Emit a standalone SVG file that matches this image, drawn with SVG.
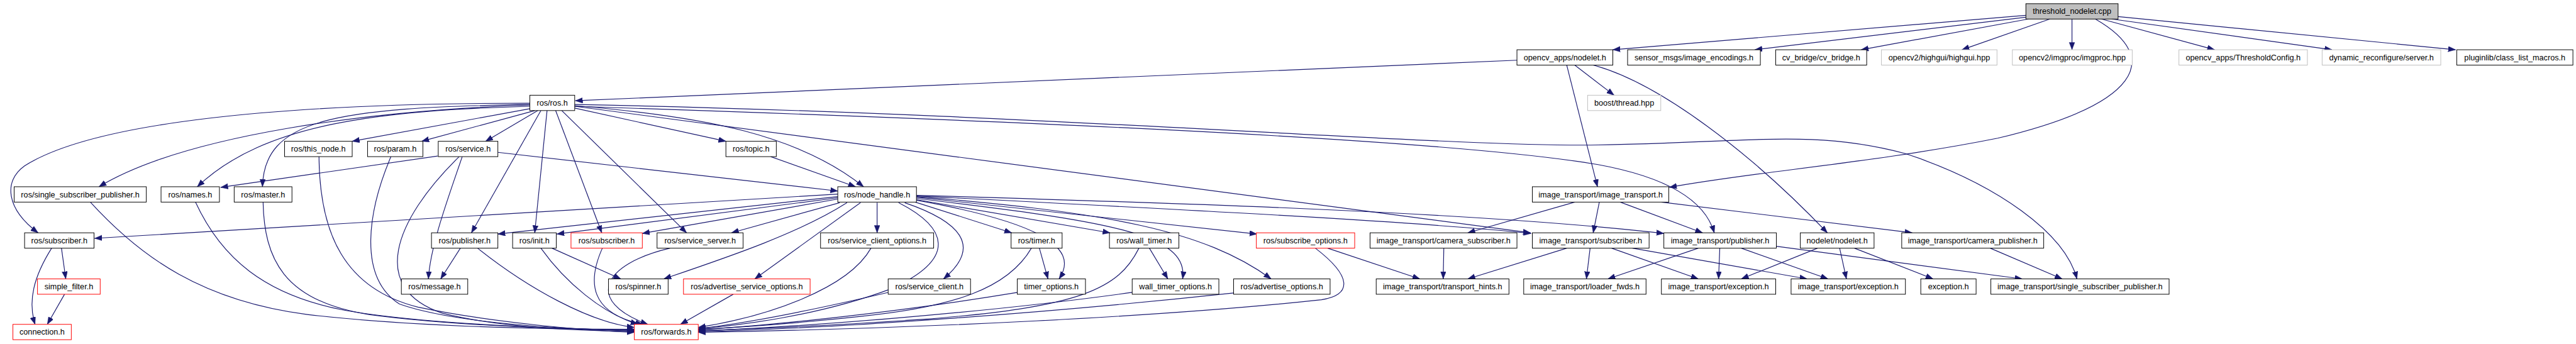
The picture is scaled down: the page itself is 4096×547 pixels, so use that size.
<svg xmlns="http://www.w3.org/2000/svg" width="4096" height="547" viewBox="0 0 4096 547">
<style>
.n rect{fill:#fff;stroke:#000;stroke-width:1}
.g rect{stroke:#bfbfbf}
.r rect{stroke:#ff0000}
.root rect{fill:#bfbfbf}
text{font-family:"Liberation Sans",Arial,Helvetica,sans-serif;font-size:13px;text-anchor:middle;fill:#000}
#edges path{fill:none;stroke:#191970;stroke-width:1.2;marker-end:url(#a)}
</style>
<defs>
<marker id="a" markerUnits="userSpaceOnUse" markerWidth="14" markerHeight="10" refX="12" refY="4.5" orient="auto"><path d="M0,0 L12,4.5 L0,9 z" fill="#191970" stroke="#191970" stroke-width="0.5"/></marker>
</defs>
<rect width="4096" height="547" fill="#fff"/>
<g transform="scale(0.97733,0.97679)">
<g id="edges">
<path d="M3296,25 L2624,81"/>
<path d="M3296,28 L2855,81"/>
<path d="M3300,31 L3028,81"/>
<path d="M3335,31 L3192,81"/>
<path d="M3371,31 L3371,81"/>
<path d="M3419,31 L3603,81"/>
<path d="M3436,31 L3794,81"/>
<path d="M3446,27 L3995,81"/>
<path d="M3409,31 C3520,95 3480,170 3250,225 C3050,265 2850,280 2716,305"/>
<path d="M2468,98 L936,164"/>
<path d="M2562,106 L2626,155"/>
<path d="M2549,106 L2599,304"/>
<path d="M2592,106 C2700,135 2850,250 2973,379"/>
<path d="M862,168 C450,168 150,200 40,270 C5,295 10,340 62,379"/>
<path d="M862,171 C600,180 300,220 161,304"/>
<path d="M862,173 C620,180 430,200 321,304"/>
<path d="M862,170 C540,175 430,195 427,304"/>
<path d="M862,177 L573,230"/>
<path d="M870,180 L686,230"/>
<path d="M875,180 L790,230"/>
<path d="M880,180 L767,379"/>
<path d="M890,180 L870,379"/>
<path d="M904,180 L979,379"/>
<path d="M914,180 L1117,379"/>
<path d="M935,176 L1181,230"/>
<path d="M935,172 C1150,190 1300,220 1405,304"/>
<path d="M935,173 L2490,379"/>
<path d="M935,173 C1600,195 2350,225 2600,268 C2720,290 2775,330 2789,379"/>
<path d="M935,170 C1700,185 2350,240 2600,236 C2850,232 2950,210 3100,250 C3250,300 3360,380 3379,454"/>
<path d="M712,254 L359,305"/>
<path d="M747,255 C640,360 600,470 720,510 C820,535 950,538 1032,540"/>
<path d="M752,255 C730,320 700,400 697,454"/>
<path d="M810,248 L1363,311"/>
<path d="M519,255 C520,380 560,470 680,500 C800,525 950,538 1032,541"/>
<path d="M636,255 C600,340 580,450 650,495 C750,530 950,536 1032,539"/>
<path d="M318,329 C360,420 430,480 560,505 C700,530 950,536 1032,538"/>
<path d="M428,329 C430,420 460,490 600,512 C750,532 950,536 1032,537"/>
<path d="M147,329 C230,420 330,490 500,512 C700,535 950,536 1032,536"/>
<path d="M84,404 C55,450 45,490 57,528"/>
<path d="M100,404 L107,454"/>
<path d="M105,479 L77,528"/>
<path d="M749,404 L717,454"/>
<path d="M777,404 C860,470 960,525 1032,533"/>
<path d="M880,404 C920,460 980,510 1038,528"/>
<path d="M898,404 L1010,454"/>
<path d="M980,404 C955,460 960,510 1046,528"/>
<path d="M1090,404 C980,430 950,490 1054,528"/>
<path d="M1254,255 L1392,304"/>
<path d="M1363,316 L154,388"/>
<path d="M1363,320 L810,381"/>
<path d="M1363,322 L906,381"/>
<path d="M1363,324 L1045,380"/>
<path d="M1366,330 L1190,379"/>
<path d="M1378,330 C1300,380 1180,420 1080,454"/>
<path d="M1400,330 L1228,454"/>
<path d="M1427,330 L1427,379"/>
<path d="M1462,330 C1540,370 1560,420 1450,470 C1330,515 1200,530 1136,535"/>
<path d="M1472,330 C1560,360 1600,400 1535,454"/>
<path d="M1489,329 L1646,379"/>
<path d="M1491,326 C1680,360 1760,400 1723,454"/>
<path d="M1491,325 L1806,379"/>
<path d="M1491,323 C1800,360 1935,380 1924,454"/>
<path d="M1491,321 L2045,381"/>
<path d="M1491,320 C1800,345 1960,375 2068,454"/>
<path d="M1491,318 C1900,330 2400,345 2707,380"/>
<path d="M1491,319 C1900,340 2300,360 2491,380"/>
<path d="M1417,404 C1380,470 1250,515 1136,533"/>
<path d="M1445,476 C1300,510 1200,528 1136,535"/>
<path d="M1678,404 C1640,470 1550,500 1400,515 C1280,528 1180,534 1136,536"/>
<path d="M1691,404 L1705,454"/>
<path d="M1656,476 C1450,510 1250,530 1136,537"/>
<path d="M1853,404 C1820,470 1760,500 1500,520 C1300,533 1200,537 1136,538"/>
<path d="M1870,404 L1900,454"/>
<path d="M1842,476 C1600,510 1300,532 1136,539"/>
<path d="M2007,477 C1700,510 1350,535 1136,540"/>
<path d="M2140,404 C2200,450 2200,480 2150,488 C1900,515 1500,535 1136,541"/>
<path d="M2160,404 L2310,454"/>
<path d="M1193,479 L1107,528"/>
<path d="M2562,329 L2388,379"/>
<path d="M2602,329 L2592,379"/>
<path d="M2636,329 L2770,379"/>
<path d="M2703,329 L3111,379"/>
<path d="M2349,404 L2348,454"/>
<path d="M2549,404 L2388,454"/>
<path d="M2587,404 L2581,454"/>
<path d="M2622,404 L2763,454"/>
<path d="M2656,404 L2940,454"/>
<path d="M2763,404 L2616,454"/>
<path d="M2798,404 L2796,454"/>
<path d="M2833,404 L2974,454"/>
<path d="M2890,401 L3290,454"/>
<path d="M2957,404 L2833,454"/>
<path d="M2993,404 L3004,454"/>
<path d="M3017,404 L3145,454"/>
<path d="M3238,404 L3355,454"/>
</g>
<g id="n_thr" class="n root"><rect x="3296" y="6" width="150" height="25"/><text x="3371" y="23">threshold_nodelet.cpp</text></g>
<g id="n_ocvnodelet" class="n"><rect x="2468" y="81" width="156" height="25"/><text x="2546" y="98">opencv_apps/nodelet.h</text></g>
<g id="n_sensor" class="n"><rect x="2648" y="81" width="216" height="25"/><text x="2756" y="98">sensor_msgs/image_encodings.h</text></g>
<g id="n_cvb" class="n"><rect x="2889" y="81" width="148" height="25"/><text x="2963" y="98">cv_bridge/cv_bridge.h</text></g>
<g id="n_highgui" class="n g"><rect x="3061" y="81" width="188" height="25"/><text x="3155" y="98">opencv2/highgui/highgui.hpp</text></g>
<g id="n_imgproc" class="n g"><rect x="3274" y="81" width="195" height="25"/><text x="3371.5" y="98">opencv2/imgproc/imgproc.hpp</text></g>
<g id="n_thrcfg" class="n g"><rect x="3545" y="81" width="209" height="25"/><text x="3649.5" y="98">opencv_apps/ThresholdConfig.h</text></g>
<g id="n_dynrec" class="n g"><rect x="3778" y="81" width="193" height="25"/><text x="3874.5" y="98">dynamic_reconfigure/server.h</text></g>
<g id="n_plugin" class="n"><rect x="3997" y="81" width="189" height="25"/><text x="4091.5" y="98">pluginlib/class_list_macros.h</text></g>
<g id="n_ros" class="n"><rect x="862" y="155" width="73" height="25"/><text x="898.5" y="172">ros/ros.h</text></g>
<g id="n_boost" class="n g"><rect x="2583" y="155" width="119" height="25"/><text x="2642.5" y="172">boost/thread.hpp</text></g>
<g id="n_thisnode" class="n"><rect x="463" y="230" width="110" height="25"/><text x="518" y="247">ros/this_node.h</text></g>
<g id="n_param" class="n"><rect x="598" y="230" width="90" height="25"/><text x="643" y="247">ros/param.h</text></g>
<g id="n_service" class="n"><rect x="713" y="230" width="97" height="25"/><text x="761.5" y="247">ros/service.h</text></g>
<g id="n_topic" class="n"><rect x="1181" y="230" width="82" height="25"/><text x="1222" y="247">ros/topic.h</text></g>
<g id="n_ssp" class="n"><rect x="23" y="304" width="215" height="25"/><text x="130.5" y="321">ros/single_subscriber_publisher.h</text></g>
<g id="n_names" class="n"><rect x="262" y="304" width="95" height="25"/><text x="309.5" y="321">ros/names.h</text></g>
<g id="n_master" class="n"><rect x="381" y="304" width="94" height="25"/><text x="428" y="321">ros/master.h</text></g>
<g id="n_nh" class="n"><rect x="1363" y="304" width="128" height="25"/><text x="1427" y="321">ros/node_handle.h</text></g>
<g id="n_it" class="n"><rect x="2493" y="304" width="222" height="25"/><text x="2604" y="321">image_transport/image_transport.h</text></g>
<g id="n_sub" class="n"><rect x="40" y="379" width="113" height="25"/><text x="96.5" y="396">ros/subscriber.h</text></g>
<g id="n_pub" class="n"><rect x="702" y="379" width="108" height="25"/><text x="756" y="396">ros/publisher.h</text></g>
<g id="n_init" class="n"><rect x="834" y="379" width="71" height="25"/><text x="869.5" y="396">ros/init.h</text></g>
<g id="n_sub2" class="n r"><rect x="929" y="379" width="116" height="25"/><text x="987" y="396">ros/subscriber.h</text></g>
<g id="n_ss" class="n"><rect x="1069" y="379" width="140" height="25"/><text x="1139" y="396">ros/service_server.h</text></g>
<g id="n_sco" class="n"><rect x="1335" y="379" width="184" height="25"/><text x="1427" y="396">ros/service_client_options.h</text></g>
<g id="n_timer" class="n"><rect x="1645" y="379" width="83" height="25"/><text x="1686.5" y="396">ros/timer.h</text></g>
<g id="n_wtimer" class="n"><rect x="1805" y="379" width="113" height="25"/><text x="1861.5" y="396">ros/wall_timer.h</text></g>
<g id="n_subopt" class="n r"><rect x="2044" y="379" width="160" height="25"/><text x="2124" y="396">ros/subscribe_options.h</text></g>
<g id="n_camsub" class="n"><rect x="2229" y="379" width="239" height="25"/><text x="2348.5" y="396">image_transport/camera_subscriber.h</text></g>
<g id="n_itsub" class="n"><rect x="2493" y="379" width="190" height="25"/><text x="2588" y="396">image_transport/subscriber.h</text></g>
<g id="n_itpub" class="n"><rect x="2707" y="379" width="183" height="25"/><text x="2798.5" y="396">image_transport/publisher.h</text></g>
<g id="n_nodelet" class="n"><rect x="2929" y="379" width="120" height="25"/><text x="2989" y="396">nodelet/nodelet.h</text></g>
<g id="n_campub" class="n"><rect x="3094" y="379" width="231" height="25"/><text x="3209.5" y="396">image_transport/camera_publisher.h</text></g>
<g id="n_sf" class="n r"><rect x="61" y="454" width="102" height="25"/><text x="112" y="471">simple_filter.h</text></g>
<g id="n_msg" class="n"><rect x="653" y="454" width="108" height="25"/><text x="707" y="471">ros/message.h</text></g>
<g id="n_spin" class="n"><rect x="990" y="454" width="97" height="25"/><text x="1038.5" y="471">ros/spinner.h</text></g>
<g id="n_aso" class="n r"><rect x="1112" y="454" width="206" height="25"/><text x="1215" y="471">ros/advertise_service_options.h</text></g>
<g id="n_sc" class="n"><rect x="1445" y="454" width="134" height="25"/><text x="1512" y="471">ros/service_client.h</text></g>
<g id="n_to" class="n"><rect x="1655" y="454" width="111" height="25"/><text x="1710.5" y="471">timer_options.h</text></g>
<g id="n_wto" class="n"><rect x="1842" y="454" width="141" height="25"/><text x="1912.5" y="471">wall_timer_options.h</text></g>
<g id="n_ao" class="n"><rect x="2007" y="454" width="157" height="25"/><text x="2085.5" y="471">ros/advertise_options.h</text></g>
<g id="n_th" class="n"><rect x="2239" y="454" width="216" height="25"/><text x="2347" y="471">image_transport/transport_hints.h</text></g>
<g id="n_lf" class="n"><rect x="2479" y="454" width="199" height="25"/><text x="2578.5" y="471">image_transport/loader_fwds.h</text></g>
<g id="n_ex1" class="n"><rect x="2703" y="454" width="186" height="25"/><text x="2796" y="471">image_transport/exception.h</text></g>
<g id="n_ex2" class="n"><rect x="2914" y="454" width="186" height="25"/><text x="3007" y="471">image_transport/exception.h</text></g>
<g id="n_ex3" class="n"><rect x="3125" y="454" width="90" height="25"/><text x="3170" y="471">exception.h</text></g>
<g id="n_itssp" class="n"><rect x="3239" y="454" width="290" height="25"/><text x="3384" y="471">image_transport/single_subscriber_publisher.h</text></g>
<g id="n_conn" class="n r"><rect x="21" y="528" width="95" height="25"/><text x="68.5" y="545">connection.h</text></g>
<g id="n_fwd" class="n r"><rect x="1032" y="528" width="104" height="25"/><text x="1084" y="545">ros/forwards.h</text></g>
</g>
</svg>
